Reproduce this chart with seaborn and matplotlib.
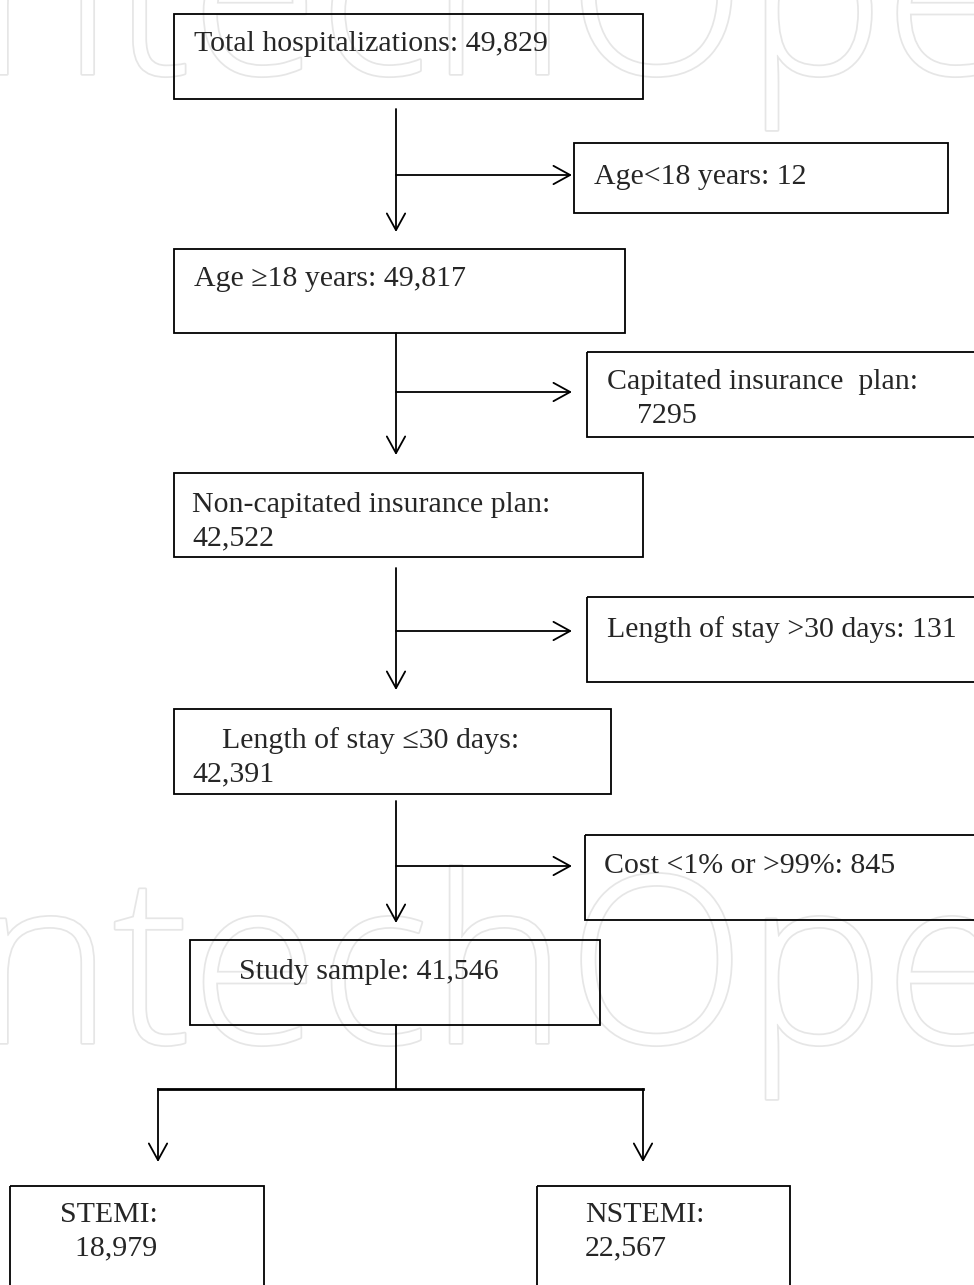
import matplotlib
matplotlib.use("Agg")
import matplotlib.pyplot as plt
import matplotlib.patches as mpatches
import matplotlib.patheffects as pe
import seaborn as sns

# Flow of patients
main_labels = ["Total hospitalizations", "Age \u226518 years", "Non-capitated insurance plan",
               "Length of stay \u226430 days", "Study sample"]
main_counts = [49829, 49817, 42522, 42391, 41546]
excl_labels = ["Age<18 years", "Capitated insurance  plan", "Length of stay >30 days", "Cost <1% or >99%"]
excl_counts = [12, 7295, 131, 845]
split_labels = ["STEMI", "NSTEMI"]
split_counts = [18979, 22567]


def fmt(n):
    return f"{n:,}" if n >= 10000 else str(n)


# text layout for each box (how label and count are broken over lines)
main_texts = [
    f"{main_labels[0]}: {fmt(main_counts[0])}",
    f"{main_labels[1]}: {fmt(main_counts[1])}",
    f"{main_labels[2]}:\n{fmt(main_counts[2])}",
    f"    {main_labels[3]}:\n{fmt(main_counts[3])}",
    f"{main_labels[4]}: {fmt(main_counts[4])}",
]
excl_texts = [
    f"{excl_labels[0]}: {fmt(excl_counts[0])}",
    f"{excl_labels[1]}:\n    {fmt(excl_counts[1])}",
    f"{excl_labels[2]}: {fmt(excl_counts[2])}",
    f"{excl_labels[3]}: {fmt(excl_counts[3])}",
]
split_texts = [
    f"{split_labels[0]}:\n  {fmt(split_counts[0])}",
    f"{split_labels[1]}:\n{fmt(split_counts[1])}",
]

# geometry in pixel units (x0, y0, x1, y1)
main_boxes = [(174, 14, 643, 99), (174, 249, 625, 333), (174, 473, 643, 557),
              (174, 709, 611, 794), (190, 940, 600, 1025)]
main_text_xy = [(194, 44), (194, 279), (192, 522), (192, 757), (239, 972)]
excl_boxes = [(574, 143, 948, 213), (587, 352, 985, 437), (587, 597, 985, 682), (585, 835, 985, 920)]
excl_text_xy = [(594, 177), (607, 399), (607, 630), (604, 866)]
split_boxes = [(10, 1186, 264, 1300), (537, 1186, 790, 1300)]
split_text_xy = [(60, 1232), (585, 1232)]

trunk_x = 396
trunk_start = [109, 333, 568, 801]
trunk_tip = [232, 455, 690, 923]
excl_y = [175, 392, 631, 866]
excl_tip = 572

sns.set_theme(style="white")
plt.rcParams['font.family'] = ['Liberation Serif', 'DejaVu Serif']

fig = plt.figure(figsize=(9.74, 12.85), dpi=100)
ax = fig.add_axes([0, 0, 1, 1])
ax.set_xlim(0, 974)
ax.set_ylim(1285, 0)
ax.axis('off')

# faint publisher watermark
for wy in [74, 1043]:
    ax.text(-25, wy, "ntechOpen", fontsize=168, family='Open Sans', fontweight='light',
            color='white', ha='left', va='baseline', zorder=0,
            path_effects=[pe.withStroke(linewidth=2.5, foreground='#e6e6e6')])

lw = 1.3
fs = 21.5
lsp = 1.37
head = mpatches.ArrowStyle('->', head_length=0.6, head_width=0.33)


def box(b):
    x0, y0, x1, y1 = b
    ax.add_patch(mpatches.Rectangle((x0, y0), x1 - x0, y1 - y0, fill=False,
                                    ec='black', lw=lw, zorder=2))


def arrow(p0, p1):
    ax.add_patch(mpatches.FancyArrowPatch(p0, p1, arrowstyle=head, mutation_scale=20,
                                          shrinkA=0, shrinkB=0, color='black', lw=lw, zorder=3))


for b, (tx, ty), s in zip(main_boxes, main_text_xy, main_texts):
    box(b)
    ax.text(tx, ty, s, fontsize=fs, ha='left', va='center', linespacing=lsp, zorder=4)

for b, (tx, ty), s in zip(excl_boxes, excl_text_xy, excl_texts):
    box(b)
    ax.text(tx, ty, s, fontsize=fs, ha='left', va='center', linespacing=lsp, zorder=4)

for b, (tx, ty), s in zip(split_boxes, split_text_xy, split_texts):
    box(b)
    ax.text(tx, ty, s, fontsize=fs, ha='left', va='center', linespacing=lsp, zorder=4)

for y0, y1, ye in zip(trunk_start, trunk_tip, excl_y):
    arrow((trunk_x, y0), (trunk_x, y1))
    arrow((trunk_x, ye), (excl_tip, ye))

# split into STEMI / NSTEMI
split_y = 1089
ax.plot([trunk_x, trunk_x], [1025, split_y], color='black', lw=lw, zorder=3)
ax.plot([158, 643], [split_y, split_y], color='black', lw=2.0, zorder=3, solid_capstyle='projecting')
for sx in [158, 643]:
    arrow((sx, split_y), (sx, 1162))

fig.savefig("out.png", dpi=100)
